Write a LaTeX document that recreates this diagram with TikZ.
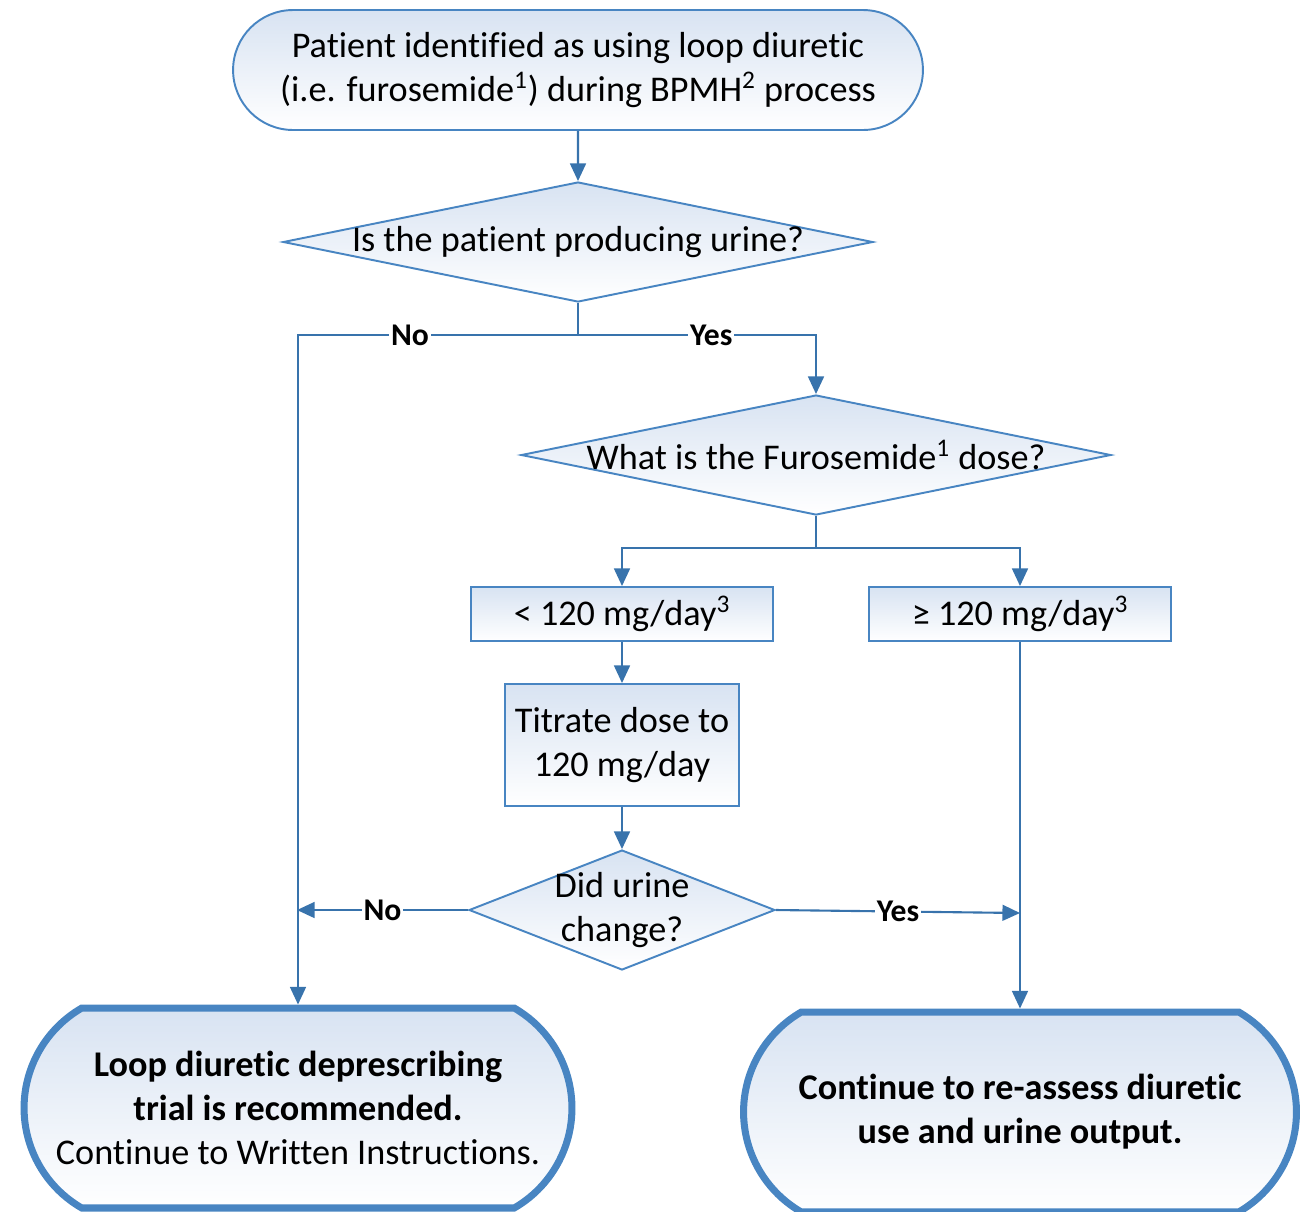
\documentclass[tikz,border=0pt]{standalone}
\usepackage{fontspec}
\setmainfont[Ligatures=NoCommon]{Carlito}
\usetikzlibrary{shapes.geometric, shapes.misc, arrows.meta}
\definecolor{edgeblue}{RGB}{72,133,194}
\definecolor{flowblue}{RGB}{56,115,172}
\definecolor{paleblue}{RGB}{216,227,242}
\tikzstyle{start_op} = [rounded rectangle, draw=edgeblue, line width=1.1pt, top color=paleblue, bottom color=white, align=center, inner sep=0pt]
\tikzstyle{end_op} = [rounded rectangle, rounded rectangle arc length=120, draw=edgeblue, line width=4pt, top color=paleblue, bottom color=white, align=center, inner sep=0pt]
\tikzstyle{decision} = [diamond, aspect=4.9, draw=edgeblue, line width=1.1pt, top color=paleblue, bottom color=white, align=center, inner sep=-2pt]
\tikzstyle{process} = [rectangle, draw=edgeblue, line width=1.1pt, top color=paleblue, bottom color=white, align=center, inner sep=0pt]
\tikzstyle{line} = [draw=flowblue, line width=1.2pt]
\tikzstyle{arrow} = [line, -{Triangle[length=10pt,width=9pt]}]
\tikzstyle{lbl} = [fill=white, inner sep=1pt, font=\fontsize{18}{20}\selectfont\bfseries]

\begin{document}
\begin{tikzpicture}[x=0.02cm, y=-0.02cm, font=\fontsize{20.6}{25}\selectfont]
\useasboundingbox (0,0) rectangle (1307,1211);
% shapes
\node (start) [start_op, minimum width=13.8cm, minimum height=2.4cm] at (578,70)
  {Patient identified as using loop diuretic\\(i.e. furosemide\textsuperscript{1}) during BPMH\textsuperscript{2} process};
\node (urine) [decision, minimum width=11.8cm, minimum height=2.4cm] at (578,242) {Is the patient producing urine?};
\node (dose) [decision, minimum width=11.8cm, minimum height=2.4cm] at (816,455) {What is the Furosemide\textsuperscript{1} dose?};
\node (low) [process, minimum width=6.04cm, minimum height=1.08cm] at (622,614) {< 120 mg/day\textsuperscript{3}};
\node (high) [process, minimum width=6.04cm, minimum height=1.08cm] at (1020,614) {≥ 120 mg/day\textsuperscript{3}};
\node (titrate) [process, minimum width=4.68cm, minimum height=2.44cm] at (622,745) {Titrate dose to\\120 mg/day};
\node (change) [decision, aspect=2.55, inner sep=-3pt, minimum width=6.12cm, minimum height=2.4cm] at (622,910) {Did urine\\change?};
\node (stop) [end_op, minimum width=10.96cm, minimum height=4cm] at (298,1108)
  {\textbf{Loop diuretic deprescribing}\\\textbf{trial is recommended.}\\Continue to Written Instructions.};
\node (keep) [end_op, minimum width=11.06cm, minimum height=4cm] at (1020,1112)
  {\textbf{Continue to re-assess diuretic}\\\textbf{use and urine output.}};
% joints
\coordinate (split1) at (578,335);
\coordinate (split2) at (816,548);
\coordinate (joinL) at (297,910);
\coordinate (joinR) at (1020,913);
% connectors
\draw[arrow] (start) -- (urine);
\draw[line] (urine.south) -- (split1);
\draw[arrow] (split1) -| node[lbl, pos=0.3] {No} (stop.north);
\draw[arrow] (split1) -| node[lbl, pos=0.28] {Yes} (dose.north);
\draw[line] (dose.south) -- (split2);
\draw[arrow] (split2) -| (low.north);
\draw[arrow] (split2) -| (high.north);
\draw[arrow] (low) -- (titrate);
\draw[arrow] (titrate) -- (change);
\draw[arrow] (change.west) -- node[lbl] {No} (joinL);
\draw[arrow] (change.east) -- node[lbl] {Yes} (joinR);
\draw[arrow] (high) -- (keep.north);
\end{tikzpicture}
\end{document}
